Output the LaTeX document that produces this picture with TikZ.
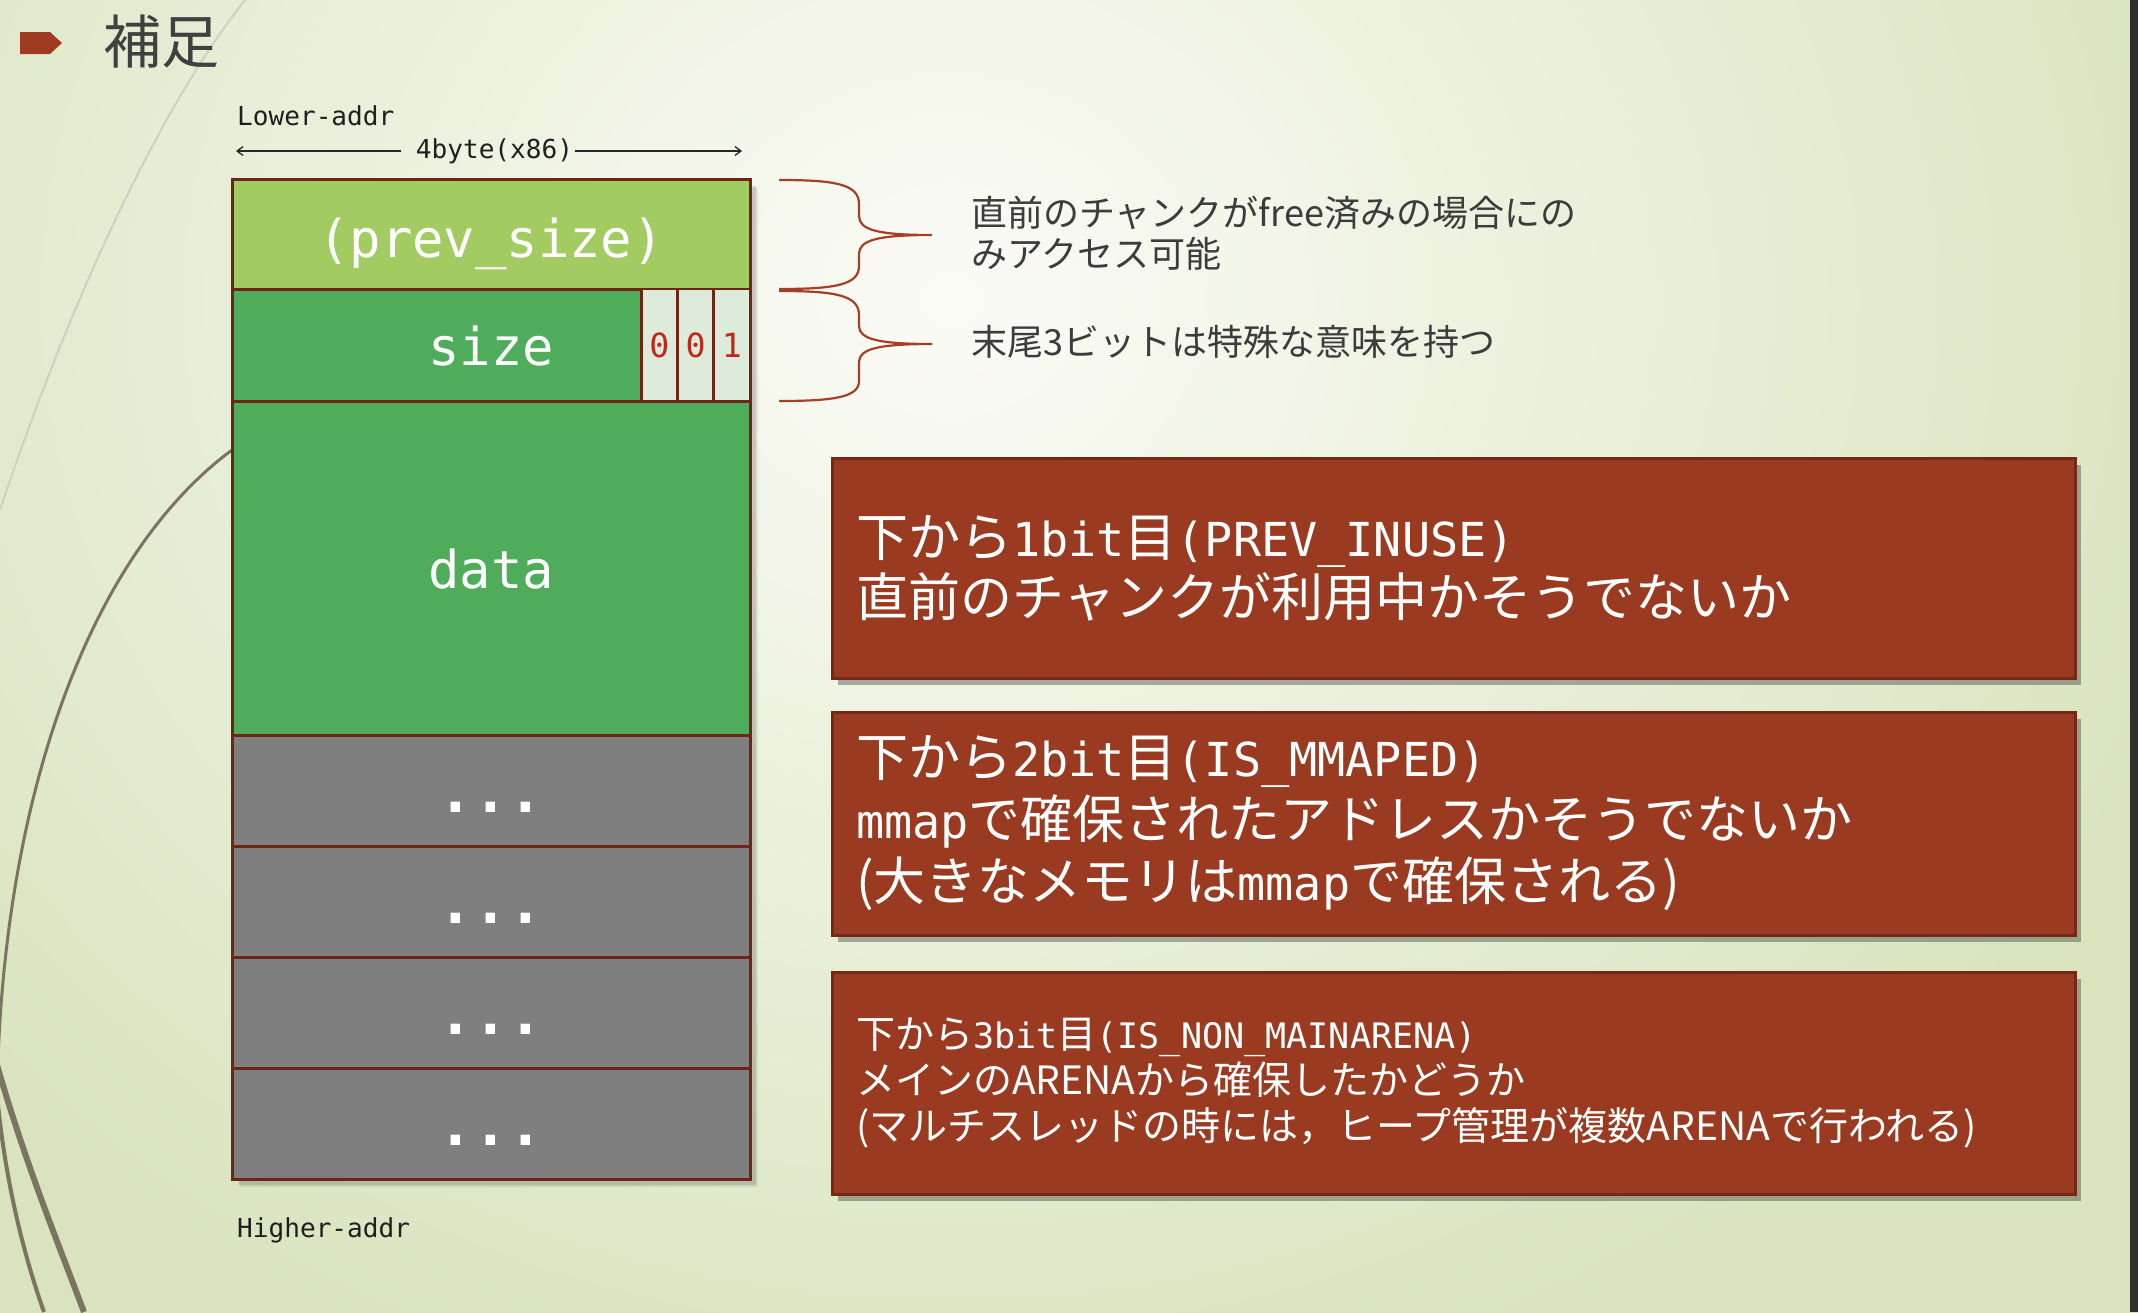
\documentclass[tikz,border=0pt]{standalone}
\usepackage{fontspec}
\setmainfont{Noto Sans CJK JP}
\newfontfamily\monof{DejaVu Sans Mono}[Scale=0.9]
\usetikzlibrary{shadows,arrows.meta}
\definecolor{bgcenter}{HTML}{FBFBF6}
\definecolor{bgouter}{HTML}{D9E4BF}
\definecolor{barcol}{HTML}{2F2F2F}
\definecolor{markred}{HTML}{A03B22}
\definecolor{titlegray}{HTML}{404040}
\definecolor{notegray}{HTML}{3C3C3C}
\definecolor{chunkline}{HTML}{6E2516}
\definecolor{prevgreen}{HTML}{A2CB62}
\definecolor{sizegreen}{HTML}{4FAC5B}
\definecolor{rowgray}{HTML}{7F7F7F}
\definecolor{bitfill}{HTML}{DCEBDA}
\definecolor{bitred}{HTML}{C0281E}
\definecolor{boxred}{HTML}{9A3A20}
\definecolor{boxline}{HTML}{742816}
\definecolor{bracered}{HTML}{A53F27}
\definecolor{curvebrown}{HTML}{7B7560}
\definecolor{curvelight}{HTML}{CDD2BE}
\tikzset{
  row/.style={rectangle, draw=chunkline, line width=3pt, minimum width=518pt,
    inner sep=0pt, font=\monof\fontsize{58}{64}\selectfont, text=white,
    text height=42pt, text depth=2pt},
  dotrow/.style={row, fill=rowgray, minimum height=111pt,
    font=\monof\bfseries\fontsize{64}{70}\selectfont, text height=45pt, text depth=2pt},
  bitcell/.style={rectangle, draw=chunkline, line width=2.5pt, fill=bitfill,
    minimum width=36.3pt, minimum height=112pt, inner sep=0pt,
    font=\monof\fontsize{37}{40}\selectfont, text=bitred},
  redbox/.style={rectangle, fill=boxred, draw=boxline, line width=3pt,
    text width=1195pt, inner xsep=24pt, inner ysep=0pt, align=left, text=white,
    drop shadow={shadow xshift=6pt, shadow yshift=-7pt, opacity=0.3, fill=black}},
  addr/.style={font=\monof\fontsize{29}{34}\selectfont, text=black!88, inner sep=0pt, anchor=west},
  note/.style={font=\fontsize{36}{41}\selectfont, text=notegray, align=left, inner sep=0pt, anchor=west},
  bracepath/.style={draw=bracered, line width=2.2pt},
  dimline/.style={draw=black!85, line width=1.3pt, -{Straight Barb[length=6pt,width=9pt]}},
}
\begin{document}
\begin{tikzpicture}[x=1pt,y=-1pt]
\useasboundingbox (0,0) rectangle (2138,1312);
% background
\begin{scope}
\clip (0,0) rectangle (2138,1312);
\shade[inner color=bgcenter, outer color=bgouter] (-350,-850) rectangle (2250,1450);
\end{scope}
\fill[barcol] (2130,0) rectangle (2138,1312);
% decorative curves
\draw[curvelight, line width=2pt] (245,0) .. controls (150,120) and (60,330) .. (0,510);
\draw[curvebrown, line width=3pt] (232,450) .. controls (90,555) and (8,790) .. (-2,1060);
\draw[curvebrown, line width=4pt] (-6,1050) .. controls (-2,1140) and (15,1230) .. (44,1312);
\draw[curvebrown, line width=6pt] (-10,1040) .. controls (20,1150) and (55,1235) .. (84,1312);
% title
\fill[markred] (20,32) -- (50,32) -- (62,43) -- (50,54) -- (20,54) -- cycle;
\node[anchor=west, inner sep=0pt, text=titlegray, font=\fontsize{58}{60}\selectfont] (title) at (103,42) {補足};
% address labels
\node[addr] (lower) at (237,116) {Lower-addr};
\node[addr, anchor=center] (width) at (494.5,151) {4byte(x86)};
\coordinate (wl) at (236,151);
\coordinate (wr) at (742,151);
\draw[dimline, shorten <=15pt] (width) -- (wl);
\draw[dimline, shorten <=2pt] (width) -- (wr);
\node[addr] (higher) at (237,1230) {Higher-addr};
% chunk shadow
\fill[black, opacity=0.12] (238,186) rectangle (756,1185);
\fill[black, opacity=0.08] (240,188) rectangle (758,1187);
% chunk rows
\node[row, fill=prevgreen, minimum height=110pt, text height=48pt, text depth=2pt] (prev) at (491,234) {(prev\_size)};
\node[row, fill=sizegreen, minimum height=112pt] (size) at (491,345) {size};
\node[row, fill=sizegreen, minimum height=334pt, text height=43pt] (data) at (491,568) {data};
\node[dotrow] (g1) at (491,790.5) {...};
\node[dotrow] (g2) at (491,901.5) {...};
\node[dotrow] (g3) at (491,1012.5) {...};
\node[dotrow] (g4) at (491,1123.5) {...};
% bit cells
\node[bitcell] (b3) at (659.4,345) {0};
\node[bitcell] (b2) at (695.6,345) {0};
\node[bitcell] (b1) at (731.8,345) {1};
% braces
\draw[bracepath] (779,180) .. controls (835,180) and (859,184) .. (859,204) -- (859,216)
  .. controls (859,230) and (878,235) .. (932,235)
  .. controls (878,235) and (859,240) .. (859,254) -- (859,266)
  .. controls (859,285) and (835,289) .. (779,289);
\draw[bracepath] (779,291) .. controls (835,291) and (859,295) .. (859,315) -- (859,326)
  .. controls (859,339) and (878,344) .. (932,344)
  .. controls (878,344) and (859,349) .. (859,362) -- (859,381)
  .. controls (859,397) and (835,401) .. (779,401);
% notes
\node[note] (note1) at (971,233) {直前のチャンクがfree済みの場合にの\\みアクセス可能};
\node[note] (note2) at (971,342) {末尾3ビットは特殊な意味を持つ};
% red boxes
\node[redbox, minimum height=220pt, font=\fontsize{52}{60}\selectfont] (box1) at (1453.5,568)
  {下から{\monof 1bit}目{\monof (PREV\_INUSE)}\\直前のチャンクが利用中かそうでないか};
\node[redbox, minimum height=223pt, font=\fontsize{52}{62}\selectfont] (box2) at (1453.5,823.5)
  {下から{\monof 2bit}目{\monof (IS\_MMAPED)}\\{\monof mmap}で確保されたアドレスかそうでないか\\(大きなメモリは{\monof mmap}で確保される)};
\node[redbox, minimum height=222pt, font=\fontsize{39}{46}\selectfont] (box3) at (1453.5,1083)
  {下から{\monof 3bit}目{\monof (IS\_NON\_MAINARENA)}\\メインのARENAから確保したかどうか\\(マルチスレッドの時には，ヒープ管理が複数ARENAで行われる)};
\end{tikzpicture}
\end{document}
